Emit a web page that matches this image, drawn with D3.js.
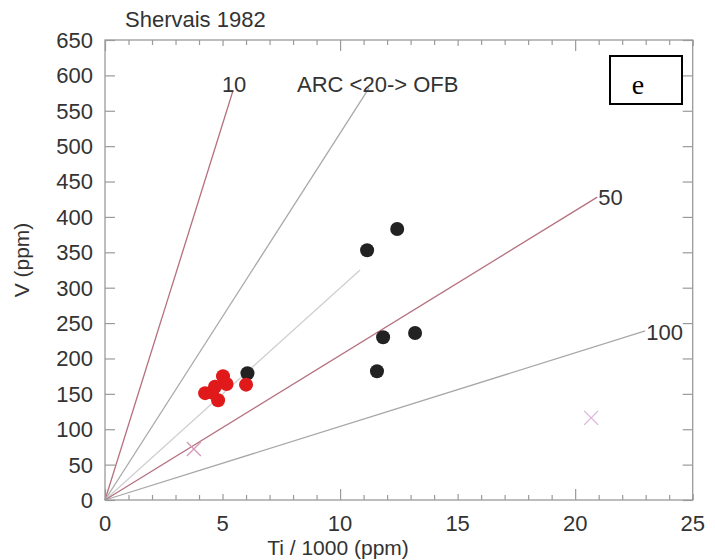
<!DOCTYPE html>
<html><head><meta charset="utf-8">
<script src="https://cdn.jsdelivr.net/npm/d3@7"></script>
<style>body{margin:0;background:#fff}svg{display:block}text{font-family:"Liberation Sans",Arial,sans-serif}text.serif{font-family:"Liberation Serif","Times New Roman",serif}</style>
</head><body><svg id="c" width="715" height="560"></svg>
<script>
// ---- data ----
const yTicks = [0,50,100,150,200,250,300,350,400,450,500,550,600,650];
const xTicks = [0,5,10,15,20,25];
// reference lines: Ti/V ratio label, end point (Ti/1000, V) — all start at origin
const refNames = ["10","20","30","50","100"];
const refEndX  = [5.45, 11.23, 10.85, 20.94, 22.98];
const refEndV  = [579, 582, 325, 428, 239];
const refColor = ["#b5707e","#a8a8a8","#cfcfcf","#b5707e","#a8a8a8"];
// samples
const blackTi = [11.15, 12.43, 11.83, 13.19, 11.57, 6.06];
const blackV  = [353, 383, 230, 236, 182, 179];
const redTi   = [6.0, 5.02, 5.17, 4.68, 4.26, 4.81, 4.55];
const redV    = [163, 175, 164, 160, 151, 141, 152];
const crossTi = [3.78, 20.68];
const crossV  = [72, 116];

// ---- chart ----
(function(){
const svg = d3.select("#c");
const L=105, R=692.7, T=40, B=500;
const x = d3.scaleLinear().domain([0,25]).range([L,R]);
const y = d3.scaleLinear().domain([0,650]).range([B,T]);
const ink="#333", frame="#9a9a9a";

const plot = svg.append("g");

// reference lines
refNames.forEach((n,i)=>{
  plot.append("line").attr("x1",x(0)).attr("y1",y(0))
    .attr("x2",x(refEndX[i])).attr("y2",y(refEndV[i]))
    .attr("stroke",refColor[i]).attr("stroke-width",1.3);
});

// frame
svg.append("rect").attr("x",L).attr("y",T).attr("width",R-L).attr("height",B-T)
  .attr("fill","none").attr("stroke",frame).attr("stroke-width",1.3);

// axes via d3 axis generators (ticks inward)
const minor = d3.range(0,26,1);
const tickLen = v => (v%10===0 ? 11 : (v%5===0 ? 6 : 5));
const gBottom = svg.append("g").attr("transform",`translate(0,${B})`)
  .call(d3.axisTop(x).tickValues(minor).tickFormat("").tickSizeOuter(0));
gBottom.select(".domain").remove();
gBottom.selectAll(".tick line").attr("y2",d=>-tickLen(d)).attr("stroke",frame).attr("stroke-width",1.2);
const gTop = svg.append("g").attr("transform",`translate(0,${T})`)
  .call(d3.axisBottom(x).tickValues(minor).tickFormat("").tickSizeOuter(0));
gTop.select(".domain").remove();
gTop.selectAll(".tick line").attr("y2",d=>tickLen(d)).attr("stroke",frame).attr("stroke-width",1.2);

const gLeft = svg.append("g").attr("transform",`translate(${L},0)`)
  .call(d3.axisRight(y).tickValues(yTicks).tickSize(10).tickFormat(""));
gLeft.select(".domain").remove();
gLeft.selectAll(".tick line").attr("stroke",frame).attr("stroke-width",1.2);
const gRight = svg.append("g").attr("transform",`translate(${R},0)`)
  .call(d3.axisLeft(y).tickValues(yTicks).tickSize(10).tickFormat(""));
gRight.select(".domain").remove();
gRight.selectAll(".tick line").attr("stroke",frame).attr("stroke-width",1.2);

// tick labels
svg.append("g").selectAll("text").data(yTicks).join("text")
  .attr("x",L-12).attr("y",d=>y(d)).attr("dy","0.36em")
  .attr("text-anchor","end").attr("font-size",22).attr("fill",ink).text(d=>d);
svg.append("g").selectAll("text").data(xTicks).join("text")
  .attr("x",d=>x(d)).attr("y",B+31)
  .attr("text-anchor","middle").attr("font-size",22).attr("fill",ink).text(d=>d);

// axis titles
svg.append("text").attr("transform",`translate(29,260) rotate(-90)`)
  .attr("text-anchor","middle").attr("font-size",21).attr("fill",ink).text("V  (ppm)");
svg.append("text").attr("x",338).attr("y",555)
  .attr("text-anchor","middle").attr("font-size",21).attr("fill",ink).text("Ti / 1000  (ppm)");
svg.append("text").attr("x",125).attr("y",27).attr("font-size",22).attr("fill",ink).text("Shervais 1982");

// line labels
svg.append("text").attr("x",x(refEndX[0])+1).attr("y",92).attr("text-anchor","middle")
  .attr("font-size",22).attr("fill",ink).text("10");
svg.append("text").attr("x",297).attr("y",92).attr("font-size",22).attr("fill",ink).text("ARC <20-> OFB");
svg.append("text").attr("x",x(refEndX[3])+1).attr("y",y(refEndV[3])+8).attr("font-size",22).attr("fill",ink).text("50");
svg.append("text").attr("x",x(refEndX[4])+1).attr("y",y(refEndV[4])+9).attr("font-size",22).attr("fill",ink).text("100");

// crosses
const cs=7;
crossTi.forEach((t,i)=>{
  const cx=x(t), cy=y(crossV[i]);
  const g=svg.append("g").attr("stroke", i===0?"#d79ab8":"#dcb6dc").attr("stroke-width",1.3);
  g.append("line").attr("x1",cx-cs).attr("y1",cy-cs).attr("x2",cx+cs).attr("y2",cy+cs);
  g.append("line").attr("x1",cx-cs).attr("y1",cy+cs).attr("x2",cx+cs).attr("y2",cy-cs);
});

// points
svg.append("g").selectAll("circle").data(blackTi).join("circle")
  .attr("cx",d=>x(d)).attr("cy",(d,i)=>y(blackV[i])).attr("r",7).attr("fill","#222");
svg.append("g").selectAll("circle").data(redTi).join("circle")
  .attr("cx",d=>x(d)).attr("cy",(d,i)=>y(redV[i])).attr("r",7).attr("fill","#e0191b");

// "e" box
svg.append("rect").attr("x",610).attr("y",56).attr("width",72).attr("height",48)
  .attr("fill","#fff").attr("stroke","#000").attr("stroke-width",2);
svg.append("text").attr("class","serif").attr("x",638).attr("y",94).attr("text-anchor","middle")
  .attr("font-size",28).attr("fill","#000").text("e");
})();
</script></body></html>
